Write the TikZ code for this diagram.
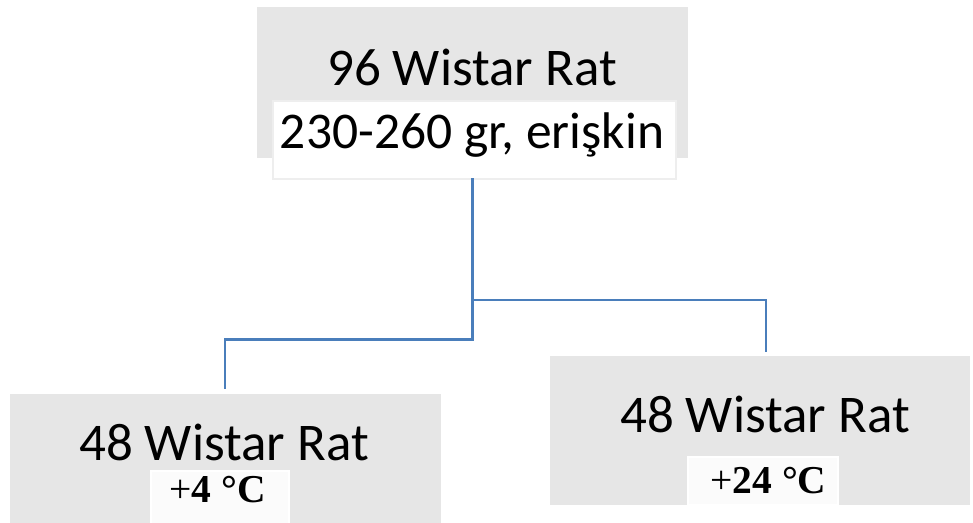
\documentclass[tikz,border=0pt]{standalone}
\usepackage{fontspec}
\setmainfont{Carlito}
\newfontfamily\timesf{Liberation Serif}
\definecolor{boxgray}{HTML}{E6E6E6}
\definecolor{wline}{HTML}{EEEEEE}
\definecolor{wfill}{HTML}{FBFBFB}
\definecolor{conn}{HTML}{4A7EBB}
\begin{document}
\begin{tikzpicture}[x=1pt,y=-1pt,
  graybox/.style={fill=boxgray,draw=none,anchor=north west,inner sep=0pt},
  whitebox/.style={fill=white,draw=wline,line width=1.5pt,anchor=north west,inner sep=0pt},
  tempbox/.style={fill=wfill,draw=white,line width=1.5pt,anchor=north west,inner sep=0pt},
  bigtxt/.style={anchor=base,inner sep=0pt,font=\fontsize{53}{60}\selectfont},
  midtxt/.style={anchor=base,inner sep=0pt,font=\fontsize{51.5}{58}\selectfont},
  temptxt/.style={anchor=base,inner sep=0pt,font=\timesf\fontsize{39.5}{44}\selectfont},
  connector/.style={draw=conn,line width=2.2pt}]
\useasboundingbox (0,0) rectangle (973,522);
% top
\node[graybox,minimum width=431pt,minimum height=151pt] (topg) at (257,7) {};
\node[whitebox,minimum width=403pt,minimum height=78pt] (topw) at (272,100) {};
\node[bigtxt] (toptxt) at (472,85) {96 Wistar Rat};
\node[midtxt] (subtxt) at (472,148) {230-260 gr, erişkin};
% bottom left
\node[graybox,minimum width=431pt,minimum height=140pt] (blg) at (10,394) {};
\node[tempbox,minimum width=138pt,minimum height=60pt] (blw) at (150,470) {};
\node[bigtxt] (bltxt) at (224,460) {48 Wistar Rat};
\node[temptxt] (bltemp) at (217.5,502) {+\textbf{4 °C}};
% bottom right
\node[graybox,minimum width=420pt,minimum height=149pt] (brg) at (550,356) {};
\node[tempbox,minimum width=150pt,minimum height=48pt] (brw) at (687,456) {};
\node[bigtxt] (brtxt) at (765,432) {48 Wistar Rat};
\node[temptxt] (brtemp) at (768.5,493) {+\textbf{24 °C}};
% connectors
\coordinate (start) at (472.5,178);
\coordinate (split) at (472.5,300);
\coordinate (rend) at (766,352);
\coordinate (lend) at (225,389);
\draw[connector] (start) -- (split) -| (rend);
\draw[connector] (split) -- (472.5,339.5) -| (lend);
\end{tikzpicture}
\end{document}
